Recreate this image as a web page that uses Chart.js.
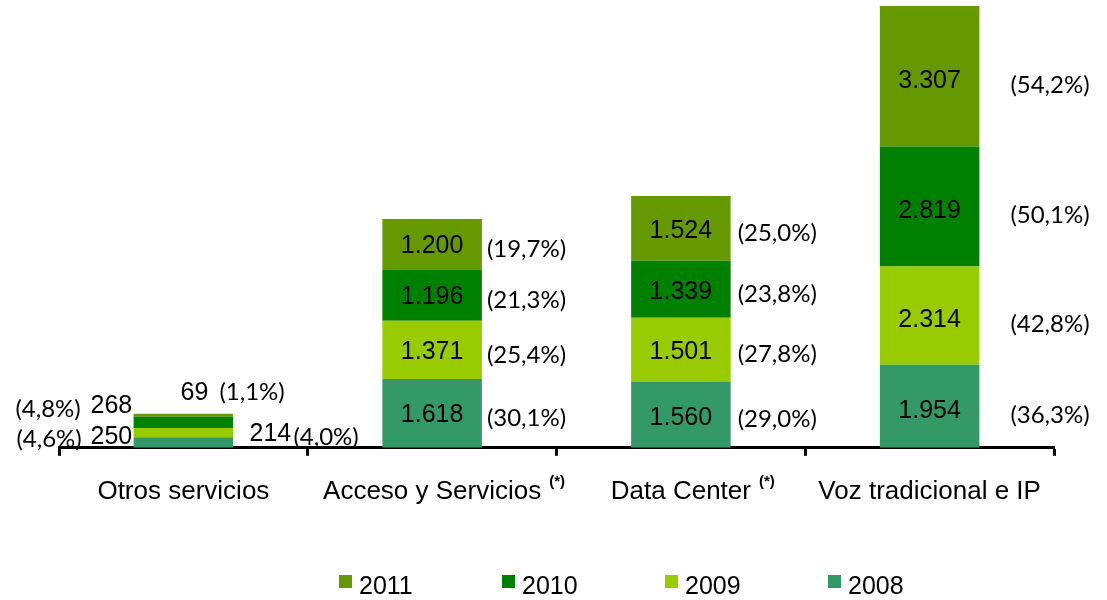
<!DOCTYPE html>
<html lang="es">
<head>
<meta charset="utf-8">
<title>Ingresos por línea de negocio 2008-2011</title>
<script src="https://cdn.jsdelivr.net/npm/chart.js"></script>
<style>
  html, body { margin: 0; padding: 0; background: #fff; }
  #wrap { width: 1107px; height: 600px; position: relative; }
</style>
</head>
<body>
<div id="wrap"><canvas id="chart"></canvas></div>
<script>
// categories and whether they carry the (*) note
const categories = ['Otros servicios', 'Acceso y Servicios', 'Data Center', 'Voz tradicional e IP'];
const starred = [false, true, true, false];

// yearly values (stacked bottom to top: 2008 -> 2011)
const years = ['2008', '2009', '2010', '2011'];
const v2008 = [250, 1618, 1560, 1954];
const v2009 = [214, 1371, 1501, 2314];
const v2010 = [268, 1196, 1339, 2819];
const v2011 = [69, 1200, 1524, 3307];

// share of each year's total, in %
const p2008 = [4.6, 30.1, 29.0, 36.3];
const p2009 = [4.0, 25.4, 27.8, 42.8];
const p2010 = [4.8, 21.3, 23.8, 50.1];
const p2011 = [1.1, 19.7, 25.0, 54.2];

const colors = ['#339966', '#99CC00', '#008000', '#669900'];

const values = [v2008, v2009, v2010, v2011];
const shares = [p2008, p2009, p2010, p2011];

const numFont = '25px "Liberation Sans", Arial, sans-serif';
const pctFont = '24px Lato, "Open Sans", sans-serif';

// label nudges (styling only)
const valDy = [0, 2, 3, 5];
const pctShift = [null, {dx: 5, dy: 5}, {dx: 7, dy: 5}, {dx: 31, dy: 9}];
// "Otros servicios" labels sit outside the thin bar: [valDx, valDy, pctDx, pctDy]
const otrosPlace = [
    [-72, -5, -167, -3],
    [87, 1, 110, 5],
    [-72, -16, -168, -13],
    [11, -22, 36, -23]
];

function fmtNum(n) {
    return String(n).replace(/\B(?=(\d{3})+(?!\d))/g, '.');
}
function fmtPct(p) {
    return '(' + p.toFixed(1).replace('.', ',') + '%)';
}

const labelPlugin = {
    id: 'barLabels',
    afterDatasetsDraw(chart) {
        const ctx = chart.ctx;
        ctx.save();
        ctx.fillStyle = '#000';
        ctx.textBaseline = 'middle';
        chart.data.datasets.forEach((ds, d) => {
            chart.getDatasetMeta(d).data.forEach((bar, i) => {
                const p = bar.getProps(['x', 'y', 'base', 'width'], true);
                const cy = (p.y + p.base) / 2;
                const right = p.x + p.width / 2;
                const num = fmtNum(values[d][i]);
                const pct = fmtPct(shares[d][i]);
                if (i === 0) {
                    const o = otrosPlace[d];
                    ctx.font = numFont;
                    ctx.textAlign = 'center';
                    ctx.fillText(num, p.x + o[0], cy + o[1]);
                    ctx.font = pctFont;
                    ctx.textAlign = 'left';
                    ctx.fillText(pct, p.x + o[2], cy + o[3]);
                    return;
                }
                ctx.font = numFont;
                ctx.textAlign = 'center';
                ctx.fillText(num, p.x, cy + valDy[i]);
                ctx.font = pctFont;
                ctx.textAlign = 'left';
                ctx.fillText(pct, right + pctShift[i].dx, cy + pctShift[i].dy);
            });
        });
        ctx.restore();
    },
    afterDraw(chart) {
        const ctx = chart.ctx;
        const xs = chart.scales.x;
        ctx.save();
        ctx.fillStyle = '#000';
        // (*) superscripts after the category names
        starred.forEach((s, i) => {
            if (!s) return;
            ctx.font = '26px "Liberation Sans", Arial, sans-serif';
            const w = ctx.measureText(categories[i]).width;
            ctx.font = 'bold 15px "Liberation Sans", Arial, sans-serif';
            ctx.textAlign = 'left';
            ctx.textBaseline = 'middle';
            ctx.fillText('(*)', xs.getPixelForTick(i) + w / 2 + 8, chart.chartArea.bottom + 34);
        });
        // legend, newest year first
        const order = [3, 2, 1, 0];
        order.forEach((d, k) => {
            const x = 339 + k * 163;
            ctx.fillStyle = colors[d];
            ctx.fillRect(x, 575, 13, 13);
            ctx.fillStyle = '#000';
            ctx.font = '25px "Liberation Sans", Arial, sans-serif';
            ctx.textAlign = 'left';
            ctx.textBaseline = 'middle';
            ctx.fillText(years[d], x + 20, 587);
        });
        ctx.restore();
    }
};

const chart = new Chart(document.getElementById('chart'), {
    type: 'bar',
    data: {
        labels: categories,
        datasets: years.map((y, d) => ({
            label: y,
            data: values[d],
            backgroundColor: colors[d],
            borderWidth: 0,
            categoryPercentage: 1,
            barPercentage: 0.4
        }))
    },
    options: {
        responsive: true,
        maintainAspectRatio: false,
        animation: false,
        devicePixelRatio: 1,
        layout: { padding: { left: 59, right: 53, top: 6, bottom: 73 } },
        plugins: {
            legend: { display: false },
            tooltip: { enabled: false }
        },
        scales: {
            x: {
                stacked: true,
                offset: true,
                grid: {
                    offset: true,
                    drawOnChartArea: false,
                    drawTicks: true,
                    tickLength: 8,
                    tickColor: '#000',
                    tickWidth: 3
                },
                border: { display: true, color: '#000', width: 3 },
                ticks: {
                    color: '#000',
                    font: { family: '"Liberation Sans", Arial, sans-serif', size: 26 },
                    padding: 20,
                    maxRotation: 0,
                    autoSkip: false
                }
            },
            y: {
                stacked: true,
                display: false,
                min: 0,
                max: 10394
            }
        }
    },
    plugins: [labelPlugin]
});
</script>
</body>
</html>
